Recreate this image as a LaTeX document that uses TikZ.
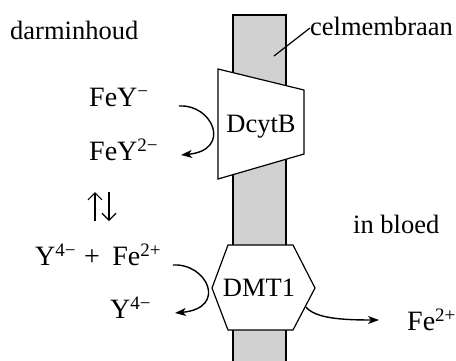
\documentclass[tikz,border=0pt]{standalone}
\usepackage{fontspec}
\setmainfont{Liberation Serif}
\usetikzlibrary{arrows.meta}
\newcommand\sups[1]{\raisebox{9pt}{\fontsize{19}{19}\selectfont #1}}
\tikzset{
  lbl/.style={inner sep=0pt, anchor=base west, font=\fontsize{26.5}{30}\selectfont},
  chem/.style={lbl, font=\fontsize{28}{32}\selectfont},
  mem/.style={draw=black, line width=1.4pt, fill=black!18},
  prot/.style={draw=black, line width=1.2pt, fill=white, line join=miter},
  conn/.style={line width=1.4pt, -{Stealth[length=11pt,width=8pt,inset=3pt]}},
  eqarr/.style={line width=1.2pt, -{Straight Barb[length=7pt,width=14pt,line width=1.2pt]}},
  lead/.style={line width=1.2pt}
}
\begin{document}
\begin{tikzpicture}[x=1pt,y=-1pt]
\useasboundingbox (0,0) rectangle (456,360);
% membrane
\draw[mem] (233,362) -- (233,15) -- (286,15) -- (286,362);
% DcytB trapezoid
\draw[prot] (218,69) -- (304,90) -- (304,154) -- (218,179) -- cycle;
\node[lbl, anchor=center] (dcytb) at (261,127) {DcytB};
% DMT1 hexagon
\draw[prot] (228,245) -- (293,245) -- (315,288) -- (293,330) -- (228,330) -- (212,288) -- cycle;
\node[lbl, anchor=center] (dmt) at (259,288) {DMT1};
% labels
\node[lbl] (darm) at (10,39) {darminhoud};
\node[lbl] (cel) at (310,35) {celmembraan};
\node[lbl] (bloed) at (353,233) {in bloed};
\node[chem] (fey1) at (89,106) {FeY\sups{−}};
\node[chem] (fey2) at (89,160) {FeY\sups{2−}};
\node[chem] (yfe) at (35,265) {Y\sups{4−}\hspace{0.3em}+\hspace{0.45em}Fe\sups{2+}};
\node[chem] (y4) at (110,318) {Y\sups{4−}};
\node[chem] (fe) at (407,330) {Fe\sups{2+}};
% leader
\coordinate (memp) at (274,56);
\draw[lead] (memp) -- (cel.west |- 0,28);
% equilibrium arrows
\coordinate (u1) at (95,221); \coordinate (u2) at (95,192);
\coordinate (d1) at (109,192); \coordinate (d2) at (109,221);
\draw[eqarr] (u1) -- (u2);
\draw[eqarr] (d1) -- (d2);
% curved arrows
\coordinate (a1) at (179,106); \coordinate (a2) at (181,155);
\draw[conn] (a1) .. controls (213,104) and (232,150) .. (a2);
\coordinate (b1) at (173,265); \coordinate (b2) at (175,313);
\draw[conn] (b1) .. controls (207,263) and (228,308) .. (b2);
\coordinate (c1) at (306,307); \coordinate (c2) at (379,320);
\draw[conn] (c1) .. controls (315,318) and (340,320) .. (c2);
\end{tikzpicture}
\end{document}
